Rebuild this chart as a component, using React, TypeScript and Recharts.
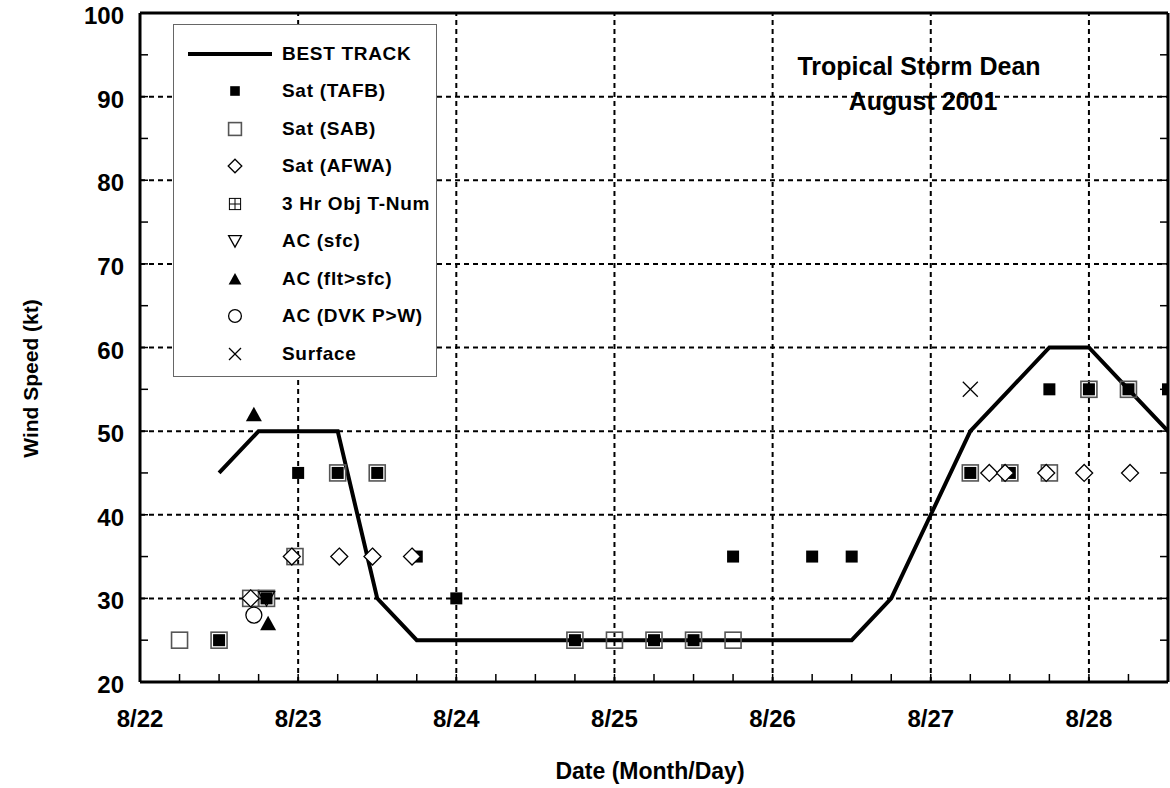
import React from 'react'
import { ComposedChart, XAxis, YAxis, Scatter, Line, ReferenceLine, Legend } from 'recharts'

const FONT = "'Liberation Sans', Arial, Helvetica, sans-serif"

// x = days after 8/22 00Z
const dayTicks = [0, 1, 2, 3, 4, 5, 6]
const dayLabels = ['8/22', '8/23', '8/24', '8/25', '8/26', '8/27', '8/28']
const sixHourTicks = [
  0, 0.25, 0.5, 0.75, 1, 1.25, 1.5, 1.75, 2, 2.25, 2.5, 2.75, 3, 3.25,
  3.5, 3.75, 4, 4.25, 4.5, 4.75, 5, 5.25, 5.5, 5.75, 6, 6.25, 6.5,
]
const speedTicks = [20, 30, 40, 50, 60, 70, 80, 90, 100]
const speedMinorTicks = [20, 25, 30, 35, 40, 45, 50, 55, 60, 65, 70, 75, 80, 85, 90, 95, 100]

const bestTrackX = [0.5, 0.75, 1, 1.25, 1.5, 1.75, 2, 2.25, 2.5, 2.75, 3, 3.25, 3.5, 3.75, 4, 4.25, 4.5, 4.75, 5, 5.25, 5.5, 5.75, 6, 6.25, 6.5]
const bestTrackY = [45, 50, 50, 50, 30, 25, 25, 25, 25, 25, 25, 25, 25, 25, 25, 25, 25, 30, 40, 50, 55, 60, 60, 55, 50]

const tafbX = [0.5, 0.8, 1, 1.25, 1.5, 1.75, 2, 2.75, 3.25, 3.5, 3.75, 4.25, 4.5, 5.25, 5.5, 5.75, 6, 6.25, 6.5]
const tafbY = [25, 30, 45, 45, 45, 35, 30, 25, 25, 25, 35, 35, 35, 45, 45, 55, 55, 55, 55]

const sabX = [0.25, 0.5, 0.7, 0.8, 0.98, 1.25, 1.5, 2.75, 3, 3.25, 3.5, 3.75, 5.25, 5.5, 5.75, 6, 6.25]
const sabY = [25, 25, 30, 30, 35, 45, 45, 25, 25, 25, 25, 25, 45, 45, 45, 55, 55]

const afwaX = [0.7, 0.96, 1.26, 1.47, 1.72, 5.37, 5.47, 5.73, 5.97, 6.26]
const afwaY = [30, 35, 35, 35, 35, 45, 45, 45, 45, 45]

const acSfcX = [0.8]
const acSfcY = [30]

const acFltX = [0.72, 0.81]
const acFltY = [52, 27]

const dvkX = [0.72]
const dvkY = [28]

const surfaceX = [5.25]
const surfaceY = [55]

const legendNames = [
  'BEST TRACK', 'Sat (TAFB)', 'Sat (SAB)', 'Sat (AFWA)', '3 Hr Obj T-Num',
  'AC (sfc)', 'AC (flt>sfc)', 'AC (DVK P>W)', 'Surface',
]
const legendKinds = ['line', 'tafb', 'sab', 'afwa', 'tnum', 'acsfc', 'acflt', 'dvk', 'sfc']

const pts = (xs: number[], ys: number[]) => xs.map((x, i) => ({ x, y: ys[i] }))

function Mark({ kind, cx, cy, k = 1 }: { kind: string; cx: number; cy: number; k?: number }) {
  if (cx == null || cy == null) return null
  switch (kind) {
    case 'tafb': {
      const h = 6 * k
      return <rect x={cx - h} y={cy - h} width={2 * h} height={2 * h} fill="#000" />
    }
    case 'sab': {
      const h = 8 * k
      return <rect x={cx - h} y={cy - h} width={2 * h} height={2 * h} fill="none" stroke="#555" strokeWidth={1.6} />
    }
    case 'afwa': {
      const h = 8.5 * k
      return <polygon points={`${cx},${cy - h} ${cx + h},${cy} ${cx},${cy + h} ${cx - h},${cy}`} fill="#fff" stroke="#000" strokeWidth={1.3} />
    }
    case 'tnum': {
      const h = 7 * k
      return (
        <g stroke="#000" strokeWidth={1} fill="none">
          <rect x={cx - h} y={cy - h} width={2 * h} height={2 * h} />
          <line x1={cx - h} x2={cx + h} y1={cy} y2={cy} />
          <line x1={cx} x2={cx} y1={cy - h} y2={cy + h} />
        </g>
      )
    }
    case 'acsfc': {
      const h = 8 * k
      return <polygon points={`${cx - h},${cy - h * 0.85} ${cx + h},${cy - h * 0.85} ${cx},${cy + h * 0.95}`} fill="none" stroke="#000" strokeWidth={1.3} />
    }
    case 'acflt': {
      const h = 8 * k
      return <polygon points={`${cx - h},${cy + h * 0.85} ${cx + h},${cy + h * 0.85} ${cx},${cy - h * 0.95}`} fill="#000" />
    }
    case 'dvk':
      return <circle cx={cx} cy={cy} r={8 * k} fill="#fff" stroke="#000" strokeWidth={1.3} />
    case 'sfc': {
      const h = 7.5 * k
      return (
        <g stroke="#000" strokeWidth={1.3}>
          <line x1={cx - h} y1={cy - h} x2={cx + h} y2={cy + h} />
          <line x1={cx - h} y1={cy + h} x2={cx + h} y2={cy - h} />
        </g>
      )
    }
    default:
      return null
  }
}

const shapeFor = (kind: string) => (p: any) => <Mark kind={kind} cx={p.cx} cy={p.cy} />

function BottomTick({ x, y, payload }: any) {
  const i = dayTicks.indexOf(payload.value)
  return (
    <g>
      <line x1={x} x2={x} y1={y} y2={y - 8} stroke="#000" strokeWidth={1.5} />
      {i >= 0 && (
        <text x={x} y={y + 45} textAnchor="middle" fontSize={24} fontWeight="bold" fontFamily={FONT} fill="#000">
          {dayLabels[i]}
        </text>
      )}
    </g>
  )
}

function TopTick({ x, y }: any) {
  return <line x1={x} x2={x} y1={y} y2={y + 8} stroke="#000" strokeWidth={1.5} />
}

function LeftTick({ x, y, payload }: any) {
  const major = speedTicks.includes(payload.value)
  return (
    <g>
      <line x1={x} x2={x + 8} y1={y} y2={y} stroke="#000" strokeWidth={1.5} />
      {major && (
        <text x={x - 16} y={y + 11} textAnchor="end" fontSize={24} fontWeight="bold" fontFamily={FONT} fill="#000">
          {payload.value}
        </text>
      )}
    </g>
  )
}

function RightTick({ x, y }: any) {
  return <line x1={x} x2={x - 8} y1={y} y2={y} stroke="#000" strokeWidth={1.5} />
}

function YTitle({ viewBox }: any) {
  const cx = viewBox.x + 30
  const cy = viewBox.y + viewBox.height / 2 + 31
  return (
    <text x={cx} y={cy} transform={`rotate(-90 ${cx} ${cy})`} textAnchor="middle" dominantBaseline="central"
      fontSize={21} fontWeight="bold" fontFamily={FONT} fill="#000">
      Wind Speed (kt)
    </text>
  )
}

function XTitle({ viewBox }: any) {
  return (
    <text x={viewBox.x + 510} y={viewBox.y + 97} textAnchor="middle" fontSize={23} fontWeight="bold" fontFamily={FONT} fill="#000">
      Date (Month/Day)
    </text>
  )
}

function LegendBox() {
  return (
    <div style={{ width: 264, height: 353, border: '1.5px solid #666', background: '#fff', boxSizing: 'border-box', paddingTop: 10 }}>
      {legendNames.map((name, i) => (
        <div key={name} style={{ display: 'flex', alignItems: 'center', height: 37.5 }}>
          <svg width={108} height={30} style={{ flex: 'none' }}>
            {legendKinds[i] === 'line'
              ? <line x1={14} x2={98} y1={15} y2={15} stroke="#000" strokeWidth={4} />
              : <Mark kind={legendKinds[i]} cx={61} cy={15} k={0.8} />}
          </svg>
          <span style={{ fontFamily: FONT, fontWeight: 'bold', fontSize: 19, letterSpacing: 0.7, color: '#000', whiteSpace: 'nowrap' }}>
            {name}
          </span>
        </div>
      ))}
    </div>
  )
}

export default function App() {
  return (
    <div style={{ position: 'absolute', left: 0, top: 0, width: 1170, height: 788, background: '#fff' }}>
      <ComposedChart width={1170} height={788} margin={{ top: 0, right: 0, bottom: 0, left: 0 }}>
        <XAxis dataKey="x" type="number" domain={[0, 6.5]} allowDataOverflow ticks={sixHourTicks} interval={0}
          height={106} tickSize={0} tickMargin={0} tick={<BottomTick />} tickLine={false}
          axisLine={{ stroke: '#000', strokeWidth: 3 }} label={<XTitle />} />
        <XAxis xAxisId="top" orientation="top" type="number" domain={[0, 6.5]} allowDataOverflow ticks={sixHourTicks} interval={0}
          height={13} tickSize={0} tickMargin={0} tick={<TopTick />} tickLine={false}
          axisLine={{ stroke: '#000', strokeWidth: 3 }} />
        <YAxis dataKey="y" type="number" domain={[20, 100]} allowDataOverflow ticks={speedMinorTicks} interval={0}
          width={140} tickSize={0} tickMargin={0} tick={<LeftTick />} tickLine={false}
          axisLine={{ stroke: '#000', strokeWidth: 3 }} label={<YTitle />} />
        <YAxis yAxisId="right" orientation="right" type="number" domain={[20, 100]} allowDataOverflow ticks={speedMinorTicks} interval={0}
          width={2} tickSize={0} tickMargin={0} tick={<RightTick />} tickLine={false}
          axisLine={{ stroke: '#000', strokeWidth: 3 }} />

        {dayTicks.slice(1).map(d => (
          <ReferenceLine key={`d${d}`} x={d} stroke="#000" strokeWidth={2} strokeDasharray="5 4" />
        ))}
        {speedTicks.slice(1, -1).map(v => (
          <ReferenceLine key={`s${v}`} y={v} stroke="#000" strokeWidth={2} strokeDasharray="5 4" />
        ))}

        <Legend content={<LegendBox />} layout="vertical" align="center" verticalAlign="middle"
          width={264} height={353} wrapperStyle={{ left: 173, top: 24 }} />

        <Scatter name="Sat (TAFB)" data={pts(tafbX, tafbY)} shape={shapeFor('tafb')} isAnimationActive={false} />
        <Scatter name="Sat (SAB)" data={pts(sabX, sabY)} shape={shapeFor('sab')} isAnimationActive={false} />
        <Scatter name="Sat (AFWA)" data={pts(afwaX, afwaY)} shape={shapeFor('afwa')} isAnimationActive={false} />
        <Scatter name="AC (sfc)" data={pts(acSfcX, acSfcY)} shape={shapeFor('acsfc')} isAnimationActive={false} />
        <Scatter name="AC (flt>sfc)" data={pts(acFltX, acFltY)} shape={shapeFor('acflt')} isAnimationActive={false} />
        <Scatter name="AC (DVK P>W)" data={pts(dvkX, dvkY)} shape={shapeFor('dvk')} isAnimationActive={false} />
        <Scatter name="Surface" data={pts(surfaceX, surfaceY)} shape={shapeFor('sfc')} isAnimationActive={false} />
        <Line name="BEST TRACK" data={pts(bestTrackX, bestTrackY)} dataKey="y" type="linear" stroke="#000" strokeWidth={4}
          dot={false} activeDot={false} isAnimationActive={false} />

        <text x={919} y={75} textAnchor="middle" fontSize={25} fontWeight="bold" fontFamily={FONT} fill="#000">
          Tropical Storm Dean
        </text>
        <text x={923} y={110} textAnchor="middle" fontSize={25} fontWeight="bold" fontFamily={FONT} fill="#000">
          August 2001
        </text>
      </ComposedChart>
    </div>
  )
}
